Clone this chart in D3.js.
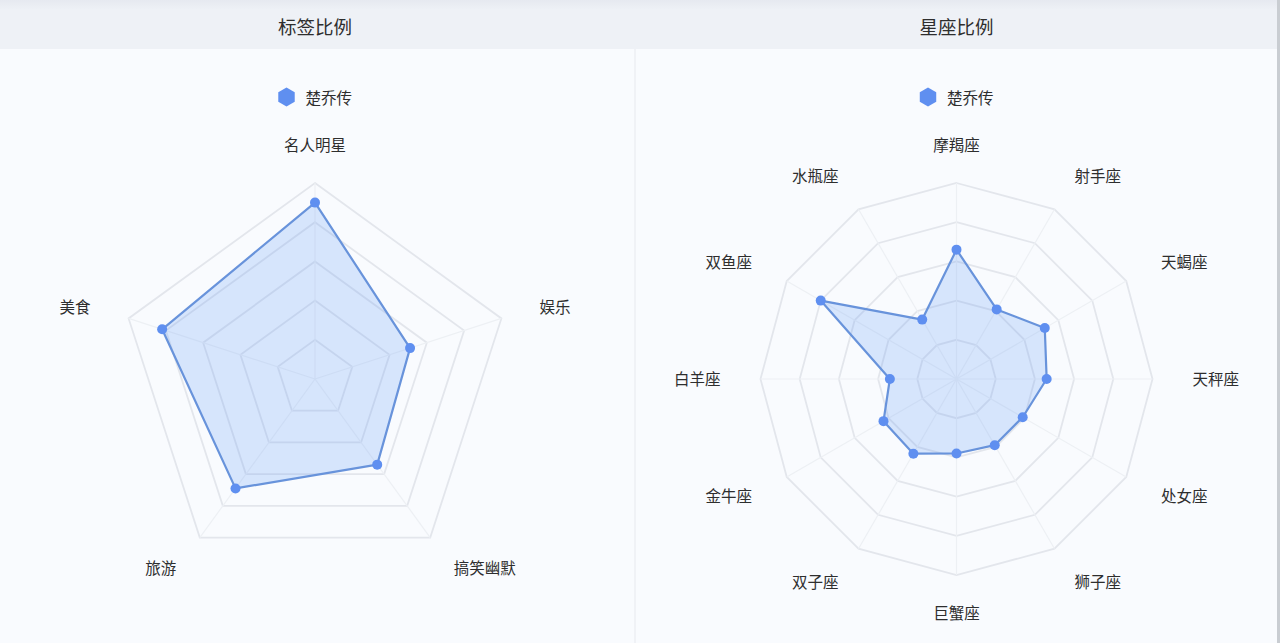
<!DOCTYPE html>
<html>
<head>
<meta charset="utf-8">
<script src="https://cdn.jsdelivr.net/npm/d3@7/dist/d3.min.js"></script>
<style>
  html, body { margin: 0; padding: 0; background: #f9fbfe; }
  body { width: 1280px; height: 643px; overflow: hidden; font-family: "Noto Sans CJK SC", "Noto Sans", sans-serif; }
  svg { display: block; }
</style>
</head>
<body>
<svg id="chart" width="1280" height="643"></svg>
<script>
// ── Data ──
const seriesName = '楚乔传';

const tagTitle  = '标签比例';
const tagAxes   = ['名人明星', '娱乐', '搞笑幽默', '旅游', '美食'];
const tagValues = [90, 51, 54, 69, 82];

const starTitle  = '星座比例';
const starAxes   = ['摩羯座', '射手座', '天蝎座', '天秤座', '处女座', '狮子座',
                    '巨蟹座', '双子座', '金牛座', '白羊座', '双鱼座', '水瓶座'];
const starValues = [66, 41, 52, 46, 39, 39, 38, 44, 43, 34, 80, 35];

const MAX_VALUE = 100;
const RINGS     = 5;

const COLOR_LINE = '#6893db';
const COLOR_DOT  = '#5f8ff0';
const COLOR_GRID = '#e3e6ec';
const COLOR_TEXT = '#2e2e2e';

const svg = d3.select('#chart');

// ── Header bar ──
const headGrad = svg.append('defs').append('linearGradient')
  .attr('id', 'head-grad').attr('x1', 0).attr('y1', 0).attr('x2', 0).attr('y2', 1);
headGrad.append('stop').attr('offset', '0%').attr('stop-color', '#e6e9f0');
headGrad.append('stop').attr('offset', '20%').attr('stop-color', '#eef1f6');
headGrad.append('stop').attr('offset', '100%').attr('stop-color', '#eef1f6');

svg.append('rect').attr('x', 0).attr('y', 0).attr('width', 1280).attr('height', 49)
  .attr('fill', 'url(#head-grad)');

// panel divider + right edge
svg.append('rect').attr('x', 634).attr('y', 49).attr('width', 2).attr('height', 594).attr('fill', '#f0f2f6');
svg.append('rect').attr('x', 1277).attr('y', 0).attr('width', 3).attr('height', 643).attr('fill', '#c9cdd2');

function hexPath(cx, cy, r) {
  const pts = d3.range(6).map(i => {
    const a = Math.PI / 3 * i;
    return [cx + r * Math.sin(a), cy - r * Math.cos(a)];
  });
  return d3.line()(pts) + 'Z';
}

function drawRadar(cx, title, axes, values) {
  const g  = svg.append('g');
  const cy = 379;
  const R  = 196;

  // title
  g.append('text')
    .attr('x', cx).attr('y', 26)
    .attr('text-anchor', 'middle').attr('dominant-baseline', 'central')
    .attr('font-size', 18.5).attr('fill', COLOR_TEXT)
    .text(title);

  // legend
  const legendW = 18 + 10 + 47;
  const lx = cx - legendW / 2;
  g.append('path').attr('d', hexPath(lx + 9, 97, 9.5)).attr('fill', '#5f8ff0');
  g.append('text')
    .attr('x', lx + 28).attr('y', 97)
    .attr('dominant-baseline', 'central')
    .attr('font-size', 15.5).attr('fill', COLOR_TEXT)
    .text(seriesName);

  const n = axes.length;
  const angle = d3.scaleLinear().domain([0, n]).range([0, 2 * Math.PI]);
  const r = d3.scaleLinear().domain([0, MAX_VALUE]).range([0, R]);
  const pt = (i, rad) => [cx + rad * Math.sin(angle(i)), cy - rad * Math.cos(angle(i))];

  // rings
  const ringVals = d3.range(1, RINGS + 1).map(k => MAX_VALUE * k / RINGS);
  g.append('g').selectAll('path').data(ringVals).join('path')
    .attr('d', v => d3.line()(d3.range(n).map(i => pt(i, r(v)))) + 'Z')
    .attr('fill', 'none')
    .attr('stroke', COLOR_GRID)
    .attr('stroke-width', 1.8);

  // spokes
  g.append('g').selectAll('line').data(axes).join('line')
    .attr('x1', cx).attr('y1', cy)
    .attr('x2', (d, i) => pt(i, R)[0]).attr('y2', (d, i) => pt(i, R)[1])
    .attr('stroke', '#edf0f4')
    .attr('stroke-width', 1.2);

  // axis names
  g.append('g').selectAll('text').data(axes).join('text')
    .attr('x', (d, i) => pt(i, R + 40)[0])
    .attr('y', (d, i) => pt(i, R + 38)[1] - 1)
    .attr('text-anchor', (d, i) => {
      const dx = Math.sin(angle(i));
      return dx > 0.01 ? 'start' : dx < -0.01 ? 'end' : 'middle';
    })
    .attr('dominant-baseline', 'central')
    .attr('font-size', 15.5).attr('fill', COLOR_TEXT)
    .text(d => d);

  // series area
  const pts = values.map((v, i) => pt(i, r(v)));
  g.append('path')
    .attr('d', d3.line()(pts) + 'Z')
    .attr('fill', 'rgba(92,150,245,0.22)')
    .attr('stroke', COLOR_LINE)
    .attr('stroke-width', 2.2)
    .attr('stroke-linejoin', 'round');

  g.append('g').selectAll('circle').data(pts).join('circle')
    .attr('cx', d => d[0]).attr('cy', d => d[1])
    .attr('r', 5)
    .attr('fill', COLOR_DOT);
}

drawRadar(315, tagTitle, tagAxes, tagValues);
drawRadar(956.5, starTitle, starAxes, starValues);
</script>
</body>
</html>
